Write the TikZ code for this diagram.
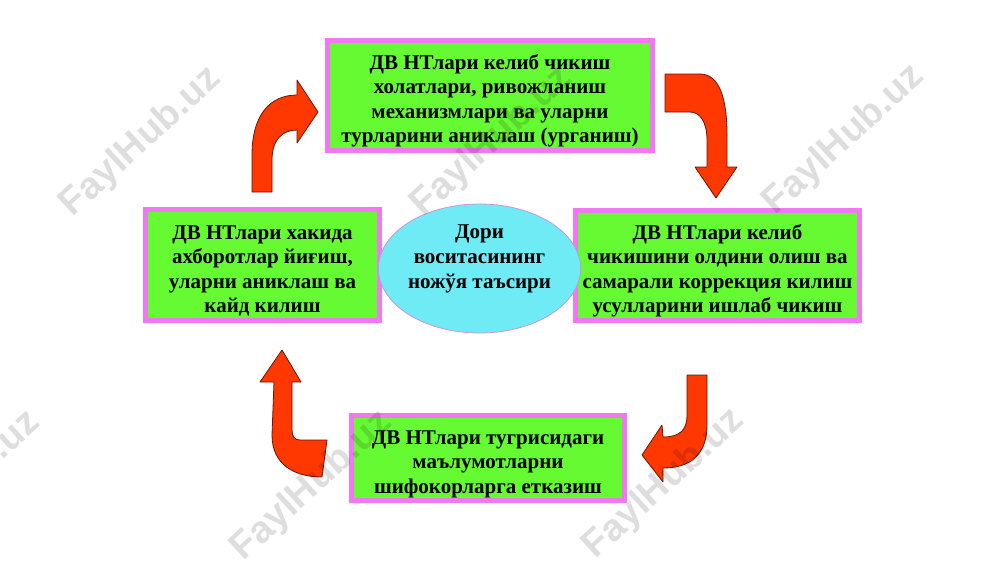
\documentclass[tikz,border=0pt]{standalone}
\usepackage{fontspec}
\setmainfont{Liberation Serif}
\newfontfamily\wmfont{Liberation Sans}
\usetikzlibrary{shapes.geometric}
\definecolor{boxgreen}{RGB}{102,250,51}
\definecolor{boxpink}{RGB}{240,120,240}
\definecolor{ellcyan}{RGB}{110,235,245}
\definecolor{ellline}{RGB}{200,150,220}
\definecolor{arrred}{RGB}{255,55,0}
\definecolor{arredge}{RGB}{110,20,0}
\newcommand{\mytopstrut}{\rule{0pt}{25.5pt}}
\begin{document}
\begin{tikzpicture}[x=1pt,y=-1pt,
 stagebox/.style={draw=boxpink, line width=5pt, fill=boxgreen, align=center, inner sep=0pt, font=\bfseries\fontsize{21}{24.5}\selectfont, text=black},
 centreell/.style={ellipse, draw=ellline, line width=0.8pt, fill=ellcyan, align=center, inner sep=0pt, font=\bfseries\fontsize{21}{25}\selectfont, text=black, execute at end node={\rule[-24pt]{0pt}{1pt}}},
 bigarrow/.style={fill=arrred, draw=arredge, line width=0.8pt, line join=round},
 wm/.style={text=black, opacity=0.13, font=\wmfont\bfseries\fontsize{38}{38}\selectfont, rotate=42.5}]
\useasboundingbox (0,0) rectangle (1000,562);
\fill[white] (0,0) rectangle (1000,562);

\node[stagebox, minimum width=325pt, minimum height=110pt] (top) at (490,95.5)
 {\mytopstrut ДВ НТлари келиб чикиш\\холатлари, ривожланиш\\механизмлари ва уларни\\турларини аниклаш (урганиш)};
\node[stagebox, minimum width=234pt, minimum height=111pt] (left) at (262.5,265)
 {\mytopstrut ДВ НТлари хакида\\ахборотлар йиғиш,\\уларни аниклаш ва\\кайд килиш};
\node[stagebox, minimum width=284pt, minimum height=110pt] (right) at (717.5,265.5)
 {\mytopstrut ДВ НТлари келиб\\чикишини олдини олиш ва\\самарали коррекция килиш\\усулларини ишлаб чикиш};
\node[stagebox, minimum width=273pt, minimum height=85pt] (bottom) at (488,458)
 {\mytopstrut ДВ НТлари тугрисидаги\\маълумотларни\\шифокорларга етказиш};
\node[centreell, minimum width=161pt, minimum height=129pt] (centre) at (479.5,268.5)
 {Дори\\воситасининг\\ножўя таъсири};

% arrow: left -> top
\draw[bigarrow] (252,192) -- (252,155) .. controls (252,115) and (270,95) .. (297,95)
 -- (297,80) -- (318,112) -- (297,143) -- (297,130)
 .. controls (282,130) and (272,140) .. (272,160) -- (272,192) -- cycle;
% arrow: top -> right
\draw[bigarrow] (665,74) -- (700,74) .. controls (720,74) and (727,100) .. (727,135)
 -- (727,167) -- (737,167) -- (716,198) -- (695,167) -- (707,167) -- (707,140)
 .. controls (707,122) and (700,112) .. (690,112) -- (665,112) -- cycle;
% arrow: right -> bottom
\draw[bigarrow] (687,375) -- (707,375) -- (707,425) .. controls (707,455) and (690,468) .. (663,468)
 -- (663,482) -- (642,455) -- (662,425) -- (663,437)
 .. controls (680,437) and (687,430) .. (687,415) -- cycle;
% arrow: bottom -> left
\draw[bigarrow] (322,477) .. controls (295,477) and (272,465) .. (272,435) -- (274,382)
 -- (260,382) -- (282,350) -- (301,382) -- (292,382) -- (292,430)
 .. controls (292,437) and (295,440) .. (300,440) -- (327,440) -- cycle;

% watermarks
\node[wm] (wm1) at (141,142) {FaylHub.uz};
\node[wm] (wm2) at (492,142) {FaylHub.uz};
\node[wm] (wm3) at (844,140) {FaylHub.uz};
\node[wm] (wm4) at (-40,486) {FaylHub.uz};
\node[wm] (wm5) at (312,486) {FaylHub.uz};
\node[wm] (wm6) at (664,484) {FaylHub.uz};
\end{tikzpicture}
\end{document}
